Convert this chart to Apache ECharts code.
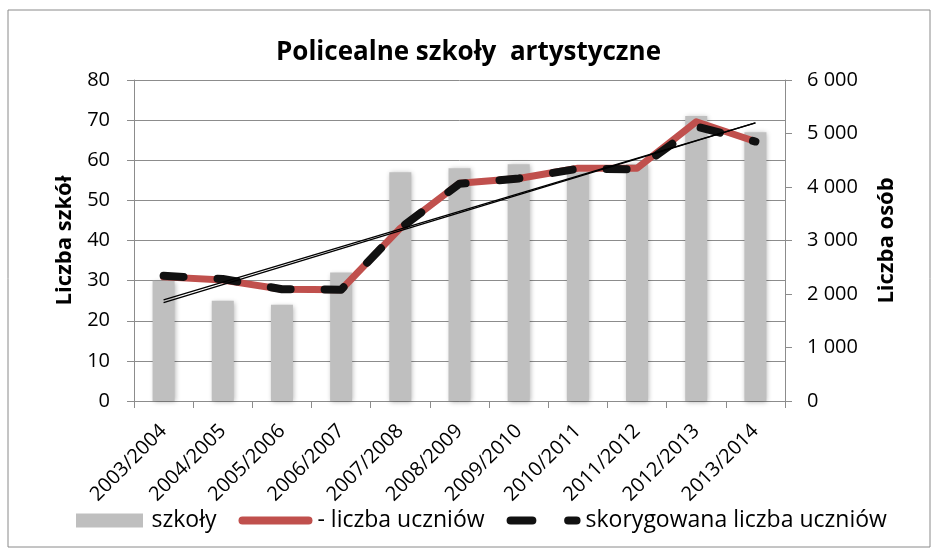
<!DOCTYPE html>
<html>
<head>
<meta charset="utf-8">
<script src="https://cdn.jsdelivr.net/npm/echarts@6/dist/echarts.min.js"></script>
<style>
  html, body { margin: 0; padding: 0; background: #fff; }
  #chart { width: 937px; height: 551px; }
</style>
</head>
<body>
<div id="chart"></div>
<script>
var lata = ['2003/2004','2004/2005','2005/2006','2006/2007','2007/2008','2008/2009',
            '2009/2010','2010/2011','2011/2012','2012/2013','2013/2014'];
var szkoly = [30, 25, 24, 32, 57, 58, 59, 57, 59, 71, 67];
var uczniowie = [2320, 2260, 2090, 2080, 3230, 4070, 4160, 4350, 4350, 5220, 4850];
var skorygowana = [2340, 2280, 2090, 2080, 3230, 4060, 4160, 4340, 4330, 5130, 4850];
// linie trendu (poczatek i koniec)
var trendUczniowie = [1890, 5200];
var trendSkorygowana = [1840, 5200];

var font = '"Open Sans", "Noto Sans", sans-serif';
var gray = '#8c8c8c';

var dom = document.getElementById('chart');
var myChart = echarts.init(dom);

function toPairs(arr) {
    return [[0, arr[0]], [lata.length - 1, arr[1]]];
}

// ikony legendy
var iconRect = 'path://M0,0 L67,0 L67,14 L0,14 Z';
var iconLine = 'path://M4,0 L70,0 A4,4 0 0 1 70,8 L4,8 A4,4 0 0 1 4,0 Z';
var iconDash = 'path://M4,0 L25,0 A4,4 0 0 1 25,8 L4,8 A4,4 0 0 1 4,0 Z M60,0 L68,0 A4,4 0 0 1 68,8 L60,8 A4,4 0 0 1 60,0 Z';

var option = {
    backgroundColor: '#fff',
    animation: false,
    textStyle: { fontFamily: font, color: '#000' },
    title: {
        text: 'Policealne szkoły  artystyczne',
        left: 'center',
        top: 35,
        textStyle: { fontFamily: font, fontSize: 26, fontWeight: 'bold', color: '#000' }
    },
    graphic: [{
        type: 'rect',
        shape: { x: 8, y: 10, width: 922, height: 537 },
        style: { fill: 'none', stroke: '#8a8a8a', lineWidth: 1 },
        silent: true
    }],
    legend: {
        top: 509,
        left: 76,
        padding: 0,
        itemGap: 22,
        itemWidth: 74,
        itemHeight: 14,
        symbolKeepAspect: true,
        textStyle: { fontFamily: font, fontSize: 23, color: '#000' },
        data: [
            { name: 'szkoły', icon: iconRect, itemStyle: { color: '#bfbfbf', borderWidth: 0, shadowBlur: 0 } },
            { name: '- liczba uczniów', icon: iconLine, itemStyle: { color: '#c0504d', borderWidth: 0 } },
            { name: 'skorygowana liczba uczniów', icon: iconDash, itemStyle: { color: '#111', borderWidth: 0 } }
        ]
    },
    grid: { left: 134, right: 152, top: 80, bottom: 150 },
    xAxis: {
        type: 'category',
        data: lata,
        boundaryGap: true,
        axisLine: { show: true, lineStyle: { color: gray, width: 1 } },
        axisTick: { show: true, length: 7, lineStyle: { color: gray } },
        axisLabel: { rotate: 45, fontSize: 20, color: '#000', fontFamily: font, margin: 27, interval: 0 }
    },
    yAxis: [{
        type: 'value',
        min: 0, max: 80, interval: 10,
        name: 'Liczba szkół',
        nameLocation: 'middle',
        nameGap: 58,
        nameRotate: 90,
        nameTextStyle: { fontFamily: font, fontSize: 22, fontWeight: 'bold', color: '#000' },
        axisLine: { show: true, lineStyle: { color: gray, width: 1 } },
        axisTick: { show: true, length: 7, lineStyle: { color: gray } },
        axisLabel: { fontSize: 20, color: '#000', fontFamily: font, margin: 24 },
        splitLine: { show: true, lineStyle: { color: gray, width: 1 } }
    }, {
        type: 'value',
        position: 'right',
        min: 0, max: 6000, interval: 1000,
        name: 'Liczba osób',
        nameLocation: 'middle',
        nameGap: 91,
        nameRotate: 90,
        nameTextStyle: { fontFamily: font, fontSize: 22, fontWeight: 'bold', color: '#000' },
        axisLine: { show: true, lineStyle: { color: gray, width: 1 } },
        axisTick: { show: true, length: 7, lineStyle: { color: gray } },
        axisLabel: {
            fontSize: 20, color: '#000', fontFamily: font, margin: 22,
            formatter: function (v) {
                return String(v).replace(/\B(?=(\d{3})+(?!\d))/g, ' ');
            }
        },
        splitLine: { show: false }
    }],
    series: [
        {
            name: 'szkoły',
            type: 'bar',
            yAxisIndex: 0,
            data: szkoly,
            barWidth: 22,
            itemStyle: {
                color: '#bfbfbf',
                shadowBlur: 5,
                shadowColor: 'rgba(0,0,0,0.3)',
                shadowOffsetX: 1,
                shadowOffsetY: 1
            }
        },
        {
            name: '- liczba uczniów',
            type: 'line',
            yAxisIndex: 1,
            data: uczniowie,
            symbol: 'none',
            color: '#c0504d',
            lineStyle: { color: '#c0504d', width: 7, cap: 'round', join: 'round' }
        },
        {
            name: 'skorygowana liczba uczniów',
            type: 'line',
            yAxisIndex: 1,
            data: skorygowana,
            symbol: 'none',
            color: '#111',
            lineStyle: { color: '#111', width: 8, type: [20, 34], cap: 'round', join: 'round' }
        },
        {
            name: 'trend1',
            type: 'line',
            yAxisIndex: 1,
            data: toPairs(trendUczniowie),
            symbol: 'none',
            silent: true,
            lineStyle: { color: '#000', width: 1.3 }
        },
        {
            name: 'trend2',
            type: 'line',
            yAxisIndex: 1,
            data: toPairs(trendSkorygowana),
            symbol: 'none',
            silent: true,
            lineStyle: { color: '#000', width: 1.3 }
        }
    ]
};

if (option && typeof option === "object") {
    myChart.setOption(option, true);
}
window.onresize = function () {
    myChart.resize();
};
</script>
</body>
</html>
